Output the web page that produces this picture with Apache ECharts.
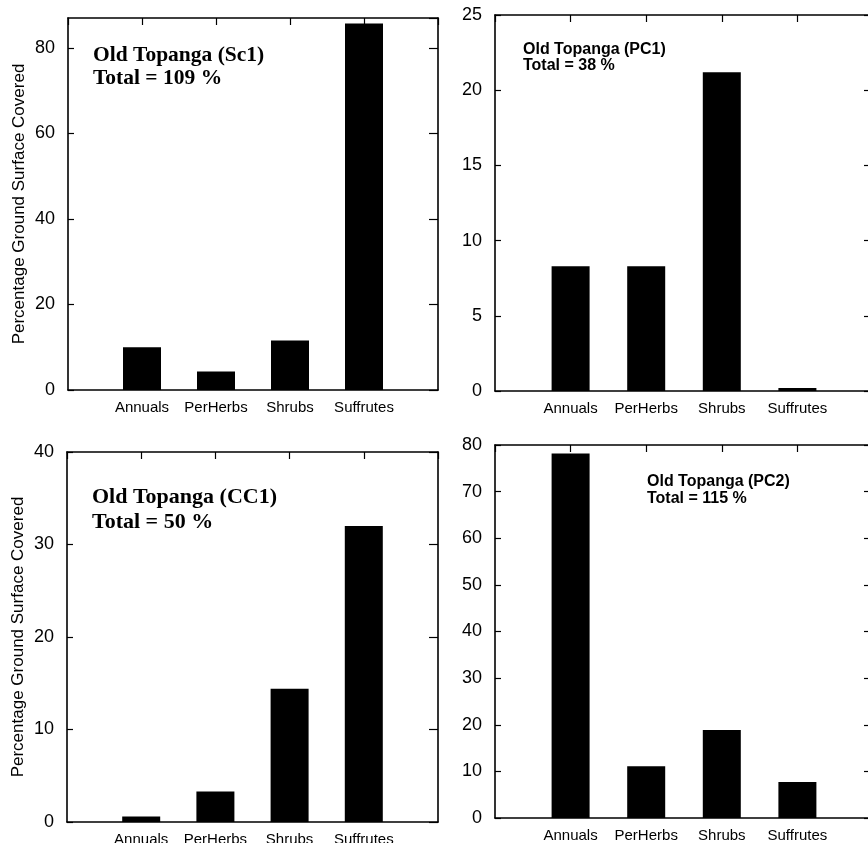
<!DOCTYPE html>
<html lang="en">
<head>
    <meta charset="UTF-8">
    <title>Old Topanga - ground surface covered</title>
    <script src="https://cdn.jsdelivr.net/npm/echarts@6/dist/echarts.min.js"></script>
    <style>
        html, body { margin: 0; padding: 0; background: #fff; }
        #main { width: 868px; height: 843px; }
    </style>
</head>
<body>
<div id="main"></div>
<script type="text/javascript">
    // categories and values
    var categories = ['Annuals', 'PerHerbs', 'Shrubs', 'Suffrutes'];
    var sc1 = [10.0, 4.3, 11.6, 85.7];
    var pc1 = [8.3, 8.3, 21.2, 0.2];
    var cc1 = [0.6, 3.3, 14.4, 32.0];
    var pc2 = [78.2, 11.1, 18.9, 7.7];

    var yName = 'Percentage Ground Surface Covered';
    var sans = '"Liberation Sans", Arial, sans-serif';
    var serif = '"Liberation Serif", "Times New Roman", serif';

    // blank slot on each side so bars sit at 1..4 of 5 intervals
    var xCats = [''].concat(categories, ['']);
    function pad(arr) { return ['-'].concat(arr, ['-']); }

    // right-hand panels run a little past the picture edge, as in the scan
    var panels = [
        { grid: { left: 68, top: 18, width: 370, height: 372 }, max: 87, interval: 20, data: sc1, name: true },
        { grid: { left: 495, top: 15, width: 378, height: 376 }, max: 25, interval: 5, data: pc1, name: false },
        { grid: { left: 67, top: 452, width: 371, height: 370 }, max: 40, interval: 10, data: cc1, name: true },
        { grid: { left: 495, top: 445, width: 378, height: 373 }, max: 80, interval: 10, data: pc2, name: false }
    ];

    var lineStyle = { color: '#000', width: 1.6 };
    var tickStyle = { color: '#000', width: 1.2 };
    var grids = [], xAxes = [], yAxes = [], series = [];

    panels.forEach(function (p, i) {
        var g = p.grid;
        g.outerBoundsMode = 'none';
        grids.push(g);
        // bottom axis with labels
        xAxes.push({
            type: 'category', gridIndex: i, position: 'bottom', data: xCats,
            boundaryGap: false,
            axisLine: { onZero: false, lineStyle: lineStyle },
            axisTick: { show: false },
            axisLabel: { color: '#000', fontFamily: sans, fontSize: 15, margin: 10, interval: 0 },
            splitLine: { show: false }
        });
        // top axis: only inward ticks
        xAxes.push({
            type: 'category', gridIndex: i, position: 'top', data: xCats,
            boundaryGap: false,
            axisLine: { onZero: false, lineStyle: lineStyle },
            axisTick: { show: true, inside: true, length: 7, interval: 0, lineStyle: tickStyle },
            axisLabel: { show: false },
            splitLine: { show: false }
        });
        yAxes.push({
            type: 'value', gridIndex: i, position: 'left', min: 0, max: p.max, interval: p.interval,
            name: p.name ? yName : '', nameLocation: 'middle', nameGap: 40, nameRotate: 90,
            nameTextStyle: { color: '#000', fontFamily: sans, fontSize: 17 },
            axisLine: { show: true, onZero: false, lineStyle: lineStyle },
            axisTick: { show: true, inside: true, length: 6, lineStyle: tickStyle },
            axisLabel: { color: '#000', fontFamily: sans, fontSize: 18, margin: 13, showMaxLabel: p.max % p.interval === 0 },
            splitLine: { show: false }
        });
        // right axis: only inward ticks
        yAxes.push({
            type: 'value', gridIndex: i, position: 'right', min: 0, max: p.max, interval: p.interval,
            axisLine: { show: true, onZero: false, lineStyle: lineStyle },
            axisTick: { show: true, inside: true, length: 9, lineStyle: tickStyle },
            axisLabel: { show: false },
            splitLine: { show: false }
        });
        series.push({
            type: 'bar', xAxisIndex: i * 2, yAxisIndex: i * 2,
            data: pad(p.data), barWidth: 38,
            itemStyle: { color: '#000' },
            silent: true
        });
    });

    var myChart = echarts.init(document.getElementById('main'));
    var option = {
        backgroundColor: '#fff',
        animation: false,
        grid: grids,
        xAxis: xAxes,
        yAxis: yAxes,
        series: series,
        graphic: [
            { type: 'text', left: 93, top: 44, style: { text: 'Old Topanga (Sc1)\nTotal = 109 %', font: 'bold 21.5px ' + serif, lineHeight: 23, fill: '#000' } },
            { type: 'text', left: 523, top: 42, style: { text: 'Old Topanga (PC1)\nTotal = 38 %', font: 'bold 16px ' + sans, lineHeight: 16, fill: '#000' } },
            { type: 'text', left: 92, top: 485, style: { text: 'Old Topanga (CC1)\nTotal = 50 %', font: 'bold 22px ' + serif, lineHeight: 25, fill: '#000' } },
            { type: 'text', left: 647, top: 473, style: { text: 'Old Topanga (PC2)\nTotal = 115 %', font: 'bold 16px ' + sans, lineHeight: 17, fill: '#000' } }
        ]
    };
    myChart.setOption(option);
</script>
</body>
</html>
